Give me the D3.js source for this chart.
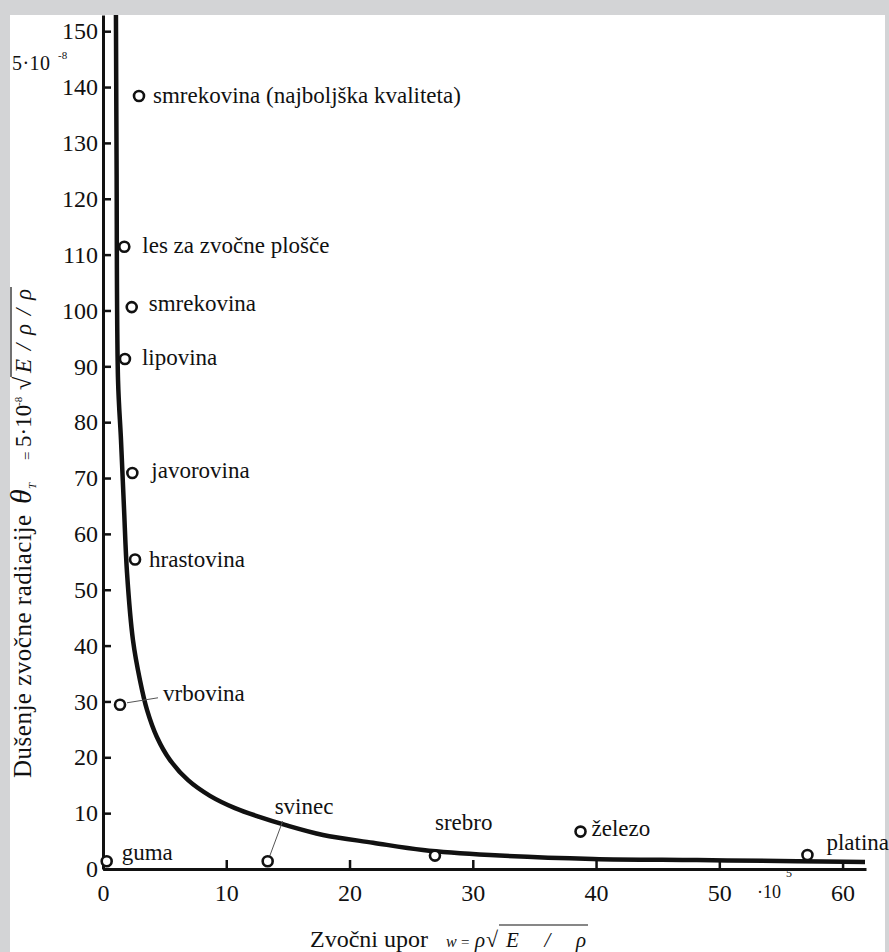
<!DOCTYPE html>
<html>
<head>
<meta charset="utf-8">
<script src="https://cdn.jsdelivr.net/npm/d3@7"></script>
<style>
body { margin: 0; background: #d3d4d6; }
</style>
</head>
<body>
<div id="graph"></div>
<script>
// materials (w in 10^5 units, theta in 5*10^-8 units)
var materials = ["smrekovina (najboljška kvaliteta)", "les za zvočne plošče", "smrekovina", "lipovina",
    "javorovina", "hrastovina", "vrbovina", "guma", "svinec", "srebro", "železo", "platina"]
var matW = [2.92, 1.73, 2.33, 1.78, 2.38, 2.60, 1.38, 0.30, 13.36, 26.93, 38.74, 57.15]
var matTheta = [138.4, 111.4, 100.6, 91.3, 70.9, 55.4, 29.4, 1.4, 1.4, 2.4, 6.7, 2.5]

// the drawn curve
var curveW = [1.05, 1.10, 1.22, 1.46, 1.70, 1.95, 2.43, 3.00, 3.57, 4.38, 5.44, 6.90, 8.68, 10.71,
    12.74, 14.77, 17.85, 21.91, 25.96, 31.40, 39.76, 48.19, 56.30, 61.82]
var curveTheta = [152.9, 126.9, 87.5, 76.8, 64.8, 53.0, 41.0, 33.8, 28.5, 23.6, 19.5, 15.9, 13.1, 10.9,
    9.3, 7.9, 6.1, 4.7, 3.4, 2.5, 1.8, 1.6, 1.4, 1.25]

var xTicks = [0, 10, 20, 30, 40, 50, 60]
var yTicks = [0, 10, 20, 30, 40, 50, 60, 70, 80, 90, 100, 110, 120, 130, 140, 150]

var width = 889, height = 952
var serif = "Liberation Serif"

var svg = d3.select("#graph").append("svg")
    .attr("width", width).attr("height", height)

svg.append("rect").attr("width", width).attr("height", height).attr("fill", "#d3d4d6")
svg.append("rect").attr("x", 10).attr("y", 15).attr("width", 875).attr("height", height - 15).attr("fill", "#fff")

var x = d3.scaleLinear().domain([0, 61.9]).range([103, 866])
var y = d3.scaleLinear().domain([0, 152.9]).range([869, 15])

// axes, ticks pointing inward
var xAxis = svg.append("g")
    .attr("transform", "translate(0," + y(0) + ")")
    .call(d3.axisBottom(x).tickValues(xTicks).tickSizeInner(-9).tickSizeOuter(0).tickPadding(15))
var yAxis = svg.append("g")
    .attr("transform", "translate(" + x(0) + ",0)")
    .call(d3.axisLeft(y).tickValues(yTicks).tickSizeInner(-8).tickSizeOuter(0).tickPadding(5))

svg.selectAll(".domain").attr("stroke", "#111").attr("stroke-width", 3)
svg.selectAll(".tick line").attr("stroke", "#111").attr("stroke-width", 2.5)
svg.selectAll(".tick text")
    .attr("font-family", serif)
    .attr("font-size", 24)
    .attr("fill", "#111")

// curve
var line = d3.line()
    .x(function(d) { return x(d[0]) })
    .y(function(d) { return y(d[1]) })
    .curve(d3.curveCatmullRom.alpha(0.5))

svg.append("path")
    .datum(curveW.map(function(w, i) { return [w, curveTheta[i]] }))
    .attr("d", line)
    .attr("fill", "none")
    .attr("stroke", "#111")
    .attr("stroke-width", 4.5)

// label placement relative to the marker
var labelOffsets = [[14, 7], [18, 6], [17, 4], [17, 6], [19, 5], [14, 7], [43, -4], [15, -1], [7, -47], [0, -26], [11, 4], [19, -5]]
var leaders = {6: [[7, -2], [38, -7]], 8: [[2, -5], [15, -40]]}

var pts = materials.map(function(m, i) { return {name: m, w: matW[i], t: matTheta[i], i: i} })

svg.append("g").selectAll("line")
    .data(pts.filter(function(d) { return leaders[d.i] }))
    .enter().append("line")
    .attr("x1", function(d) { return x(d.w) + leaders[d.i][0][0] })
    .attr("y1", function(d) { return y(d.t) + leaders[d.i][0][1] })
    .attr("x2", function(d) { return x(d.w) + leaders[d.i][1][0] })
    .attr("y2", function(d) { return y(d.t) + leaders[d.i][1][1] })
    .attr("stroke", "#555")
    .attr("stroke-width", 1)

svg.append("g").selectAll("circle")
    .data(pts)
    .enter().append("circle")
    .attr("cx", function(d) { return x(d.w) })
    .attr("cy", function(d) { return y(d.t) })
    .attr("r", 5)
    .attr("fill", "#fff")
    .attr("stroke", "#111")
    .attr("stroke-width", 2.6)

svg.append("g").selectAll("text")
    .data(pts)
    .enter().append("text")
    .attr("x", function(d) { return x(d.w) + labelOffsets[d.i][0] })
    .attr("y", function(d) { return y(d.t) + labelOffsets[d.i][1] })
    .attr("font-family", serif)
    .attr("font-size", 23)
    .attr("fill", "#111")
    .text(function(d) { return d.name })

// pieces of a title at fixed places along the baseline
function richText(g, pieces) {
    pieces.forEach(function(p) {
        var t = g.append("text")
            .attr("x", p.x)
            .attr("y", p.dy || 0)
            .attr("font-family", serif)
            .attr("font-size", p.size)
            .attr("font-style", p.italic ? "italic" : null)
            .attr("fill", "#111")
            .text(p.t)
        if (p.len) t.attr("textLength", p.len).attr("lengthAdjust", "spacing")
    })
}

// y axis title, read upward from the bottom
var yTitle = svg.append("g").attr("transform", "translate(31,778) rotate(-90)")
richText(yTitle, [
    {t: "Dušenje zvočne radiacije", x: 0, size: 25, len: 263},
    {t: "θ", x: 274, size: 30, italic: true},
    {t: "T", x: 289, size: 11, italic: true, dy: 5},
    {t: "=", x: 318, size: 15, dy: 1},
    {t: "5·10", x: 331, size: 23},
    {t: "-8", x: 372, size: 11, dy: -9},
    {t: "√", x: 388, size: 24},
    {t: "E / ρ / ρ", x: 405, size: 23, italic: true, len: 84}
])
yTitle.append("line")
    .attr("x1", 401).attr("x2", 491)
    .attr("y1", -20).attr("y2", -20)
    .attr("stroke", "#111").attr("stroke-width", 1.2)

// x axis title
var xTitle = svg.append("g").attr("transform", "translate(0,947)")
richText(xTitle, [
    {t: "Zvočni upor", x: 310, size: 24, len: 118},
    {t: "w", x: 446, size: 16, italic: true},
    {t: "=", x: 461, size: 15},
    {t: "ρ", x: 475, size: 21, italic: true},
    {t: "√", x: 486, size: 22},
    {t: "E / ρ", x: 506, size: 21, italic: true, len: 80}
])
xTitle.append("line")
    .attr("x1", 499).attr("x2", 588)
    .attr("y1", -22).attr("y2", -22)
    .attr("stroke", "#111").attr("stroke-width", 1.2)

// leftover exponent notes
var notes = svg.append("g")
richText(notes, [
    {t: "5·10", x: 12, size: 20, dy: 70, len: 38},
    {t: "-8", x: 58, size: 11, dy: 59},
    {t: "·10", x: 757, size: 18, dy: 898},
    {t: "5", x: 786, size: 12, dy: 877}
])
</script>
</body>
</html>
